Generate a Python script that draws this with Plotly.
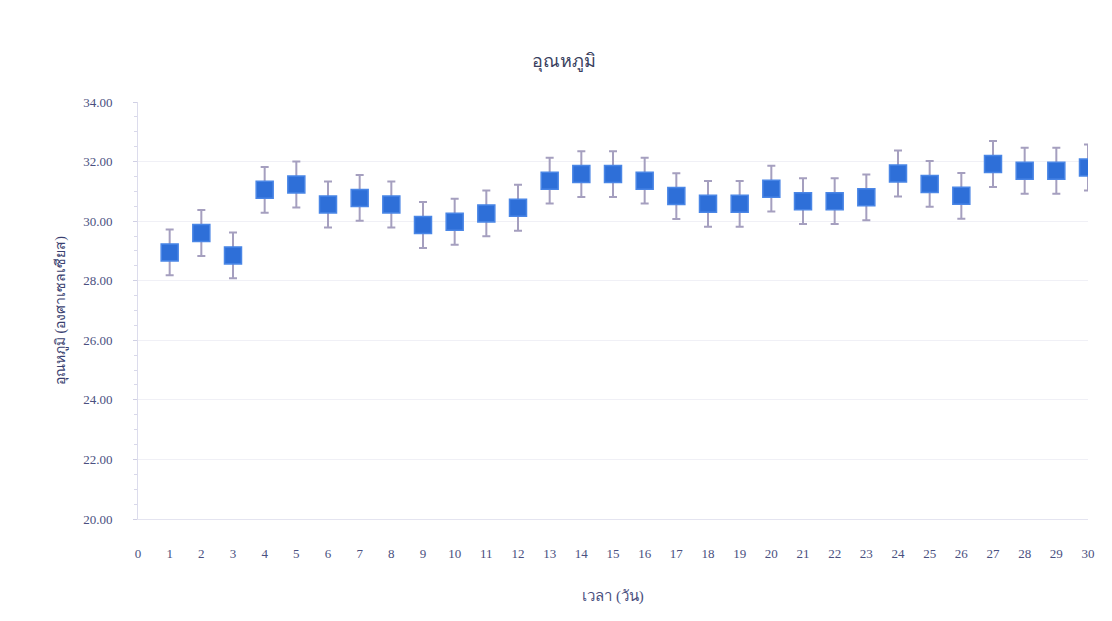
import plotly.graph_objects as go

days = list(range(1, 31))
temps = [28.95, 29.6, 28.85, 31.05, 31.23, 30.56, 30.78, 30.56, 29.87, 29.98,
         30.26, 30.45, 31.36, 31.58, 31.58, 31.36, 30.84, 30.58, 30.58, 31.09,
         30.67, 30.67, 30.8, 31.6, 31.25, 30.85, 31.92, 31.69, 31.69, 31.8]
errors = [0.77] * 30
y_ticks = [20, 22, 24, 26, 28, 30, 32, 34]
x_ticks = list(range(0, 31))

title_text = "อุณหภูมิ"
x_title = "เวลา (วัน)"
y_title = "อุณหภูมิ (องศาเซลเซียส)"

font_family = "Liberation Serif, Noto Sans, serif"
text_color = "#4a5080"

fig = go.Figure()
fig.add_trace(go.Scatter(
    x=days, y=temps, mode="markers",
    marker=dict(symbol="square", size=17, color="#2e6fd8",
                line=dict(color="#4a86e6", width=1.5)),
    error_y=dict(type="data", array=errors, visible=True,
                 color="#a59fbf", thickness=2, width=4),
    showlegend=False,
))

fig.update_layout(
    width=1112, height=621,
    paper_bgcolor="white", plot_bgcolor="white",
    margin=dict(l=130, r=32, t=94, b=110),
    title=dict(text=title_text, x=0.5, xanchor="center", y=0.915, yanchor="middle",
               font=dict(family=font_family, size=18, color="#3a3f60")),
    font=dict(family=font_family, color=text_color, size=13),
    xaxis=dict(
        range=[0, 30], tickvals=x_ticks, ticktext=[str(v) for v in x_ticks],
        showgrid=False, zeroline=False, showline=True, linecolor="#e4e4f0",
        ticks="", ticklabelstandoff=22,
        tickfont=dict(family=font_family, size=13, color=text_color),
        title=dict(text=x_title, standoff=30,
                   font=dict(family=font_family, size=15, color=text_color)),
    ),
    yaxis=dict(
        range=[20, 34], tickvals=y_ticks,
        ticktext=[f"{v:.2f}" for v in y_ticks],
        showgrid=True, gridcolor="#f0f0f6", gridwidth=1,
        zeroline=False, showline=True, linecolor="#dcdcec",
        ticks="outside", ticklen=4, tickcolor="#d0d0e4",
        minor=dict(dtick=0.5, ticks="outside", ticklen=3, tickcolor="#d8d8ea", showgrid=False),
        ticklabelstandoff=18,
        tickfont=dict(family=font_family, size=13, color=text_color),
        title=dict(text=y_title, standoff=14,
                   font=dict(family=font_family, size=14, color="#3a3f70")),
    ),
)

fig.write_html("out.html")
